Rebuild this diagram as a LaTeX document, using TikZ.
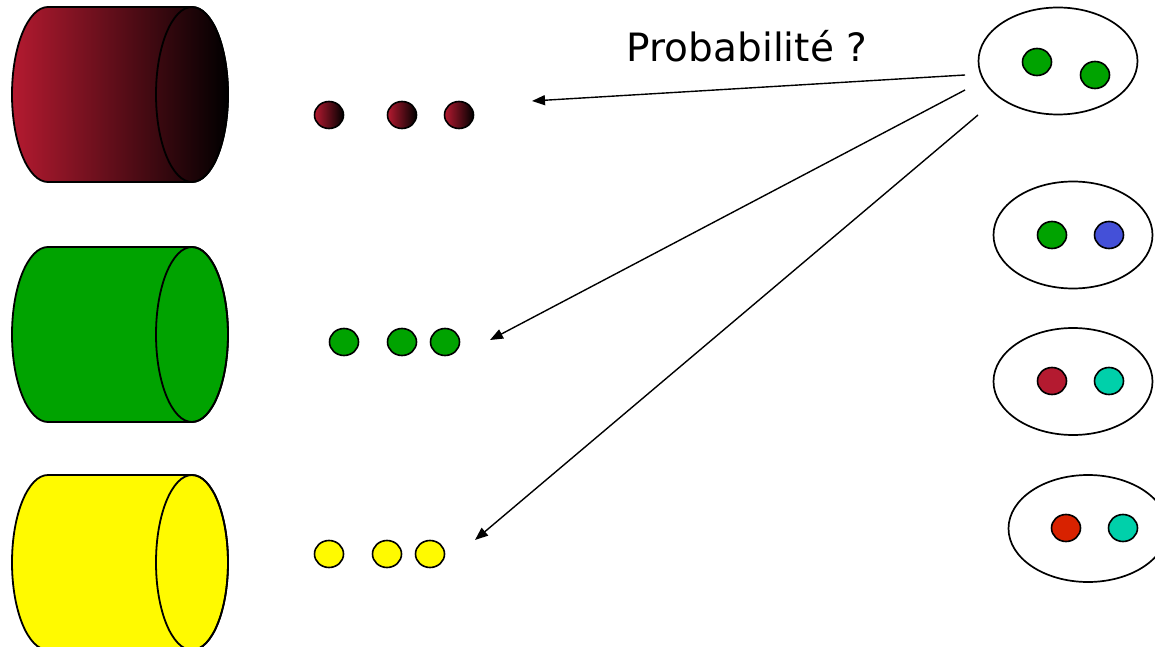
\documentclass[tikz,border=0pt]{standalone}
\usepackage{fontspec}
\setmainfont{DejaVu Sans}
\usetikzlibrary{arrows.meta,shapes.geometric}
\definecolor{wine}{RGB}{180,26,48}
\definecolor{bgreen}{RGB}{0,163,0}
\definecolor{byellow}{RGB}{255,250,0}
\definecolor{bblue}{RGB}{68,80,216}
\definecolor{bteal}{RGB}{0,208,170}
\definecolor{bred}{RGB}{216,34,0}
\tikzset{
  x=1pt,y=1pt,
  outl/.style={draw=black,line width=1.8pt},
  ball/.style={ellipse,draw=black,line width=1.6pt,minimum width=29pt,minimum height=27pt,inner sep=0pt},
  shadedball/.style={ball,left color=wine,right color=black},
  group/.style={ellipse,draw=black,line width=1.7pt,minimum width=159pt,minimum height=107pt,inner sep=0pt},
  arr/.style={-{Triangle[length=13pt,width=10pt]},line width=1.4pt},
}
\begin{document}
\begin{tikzpicture}
\useasboundingbox (0,0) rectangle (1155,646);
\clip (0,0) rectangle (1155,646);
% cylinders
\path[outl,left color=wine,right color=black]
  (192,639) -- (48,639) arc[start angle=90,end angle=270,x radius=36,y radius=87.5]
  -- (192,464) arc[start angle=-90,end angle=90,x radius=36,y radius=87.5] -- cycle;
\draw[outl] (192,551.5) ellipse[x radius=36,y radius=87.5];
\path[outl,fill=bgreen]
  (192,399) -- (48,399) arc[start angle=90,end angle=270,x radius=36,y radius=87.5]
  -- (192,224) arc[start angle=-90,end angle=90,x radius=36,y radius=87.5] -- cycle;
\draw[outl] (192,311.5) ellipse[x radius=36,y radius=87.5];
\path[outl,fill=byellow]
  (192,171) -- (48,171) arc[start angle=90,end angle=270,x radius=36,y radius=87.5]
  -- (192,-4) arc[start angle=-90,end angle=90,x radius=36,y radius=87.5] -- cycle;
\draw[outl] (192,83.5) ellipse[x radius=36,y radius=87.5];
% ball rows
\node[shadedball] (r1) at (329,531) {};
\node[shadedball] (r2) at (402,531) {};
\node[shadedball] (r3) at (459,531) {};
\node[ball,fill=bgreen] (g1) at (344,304) {};
\node[ball,fill=bgreen] (g2) at (402,304) {};
\node[ball,fill=bgreen] (g3) at (445,304) {};
\node[ball,fill=byellow] (y1) at (329,92) {};
\node[ball,fill=byellow] (y2) at (387,92) {};
\node[ball,fill=byellow] (y3) at (430,92) {};
% groups
\node[group] (e1) at (1058,585) {};
\node[ball,fill=bgreen] (e1a) at (1037,584) {};
\node[ball,fill=bgreen] (e1b) at (1095,571) {};
\node[group] (e2) at (1073,411) {};
\node[ball,fill=bgreen] (e2a) at (1052,411) {};
\node[ball,fill=bblue] (e2b) at (1109,411) {};
\node[group] (e3) at (1073,264.5) {};
\node[ball,fill=wine] (e3a) at (1052,265) {};
\node[ball,fill=bteal] (e3b) at (1109,265) {};
\node[group] (e4) at (1088,117.5) {};
\node[ball,fill=bred] (e4a) at (1066,118) {};
\node[ball,fill=bteal] (e4b) at (1123,118) {};
% arrows
\coordinate (s1) at (965,571);
\coordinate (s2) at (965,556);
\coordinate (s3) at (978,531);
\coordinate (t1) at (532,545);
\coordinate (t2) at (490,306);
\coordinate (t3) at (475,106);
\draw[arr] (s1) -- (t1);
\draw[arr] (s2) -- (t2);
\draw[arr] (s3) -- (t3);
\node[anchor=base,font=\fontsize{39}{46}\selectfont,inner sep=0pt] (lbl) at (747,584) {Probabilité ?};
\end{tikzpicture}
\end{document}
